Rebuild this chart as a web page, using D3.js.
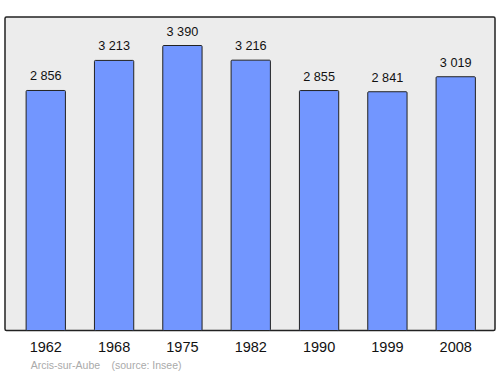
<!DOCTYPE html>
<html>
<head>
<meta charset="utf-8">
<script src="https://cdn.jsdelivr.net/npm/d3@7"></script>
<style>
  body { margin: 0; background: #fff; }
  svg { display: block; font-family: "Liberation Sans", Arial, sans-serif; }
</style>
</head>
<body>
<div id="chart-area"></div>
<script>
// Population data
let years = ["1962", "1968", "1975", "1982", "1990", "1999", "2008"];
let population = [2856, 3213, 3390, 3216, 2855, 2841, 3019];
let townName = "Arcis-sur-Aube";
let sourceText = "(source: Insee)";

let width = 500, height = 374;
let frame = {left: 5, top: 17, right: 495, bottom: 330.5};

let svg = d3.select("#chart-area").append("svg")
    .attr("width", width)
    .attr("height", height);

// Plot frame
svg.append("rect")
    .attr("x", frame.left)
    .attr("y", frame.top)
    .attr("width", frame.right - frame.left)
    .attr("height", frame.bottom - frame.top)
    .attr("rx", 1.5)
    .attr("fill", "#ececec")
    .attr("stroke", "#222")
    .attr("stroke-width", 1.5);

// Scales
let x = d3.scaleBand()
    .domain(years)
    .range([11.6, 489.9])
    .paddingInner(0.425)
    .paddingOuter(0.2125);

let y = d3.scaleLinear()
    .domain([0, 3390])
    .range([331, 45.5]);

let data = years.map((d, i) => ({year: d, value: population[i]}));

// Bars
svg.append("g")
    .selectAll("rect")
    .data(data)
    .enter()
    .append("rect")
    .attr("x", d => x(d.year))
    .attr("y", d => y(d.value))
    .attr("width", x.bandwidth())
    .attr("height", d => frame.bottom - y(d.value))
    .attr("rx", 1)
    .attr("fill", "#7296ff")
    .attr("stroke", "#222")
    .attr("stroke-width", 1);

// Value labels
svg.append("g")
    .selectAll("text")
    .data(data)
    .enter()
    .append("text")
    .attr("x", d => x(d.year) + x.bandwidth() / 2)
    .attr("y", d => y(d.value) - 10)
    .attr("text-anchor", "middle")
    .attr("font-size", 12.7)
    .attr("fill", "#111")
    .text(d => d3.format(",")(d.value).replace(",", " "));

// Year axis labels
let xAxis = d3.axisBottom(x).tickSize(0).tickPadding(0);
let axisG = svg.append("g")
    .attr("transform", "translate(0," + frame.bottom + ")")
    .call(xAxis);
axisG.select(".domain").remove();
axisG.selectAll("text")
    .attr("y", 0)
    .attr("dy", 0)
    .attr("transform", "translate(0,21.5)")
    .attr("font-size", 14.5)
    .attr("font-family", "Liberation Sans, Arial, sans-serif")
    .attr("fill", "#111");

// Source line
svg.append("text")
    .attr("x", 30.7)
    .attr("y", 369)
    .attr("font-size", 10.5)
    .attr("fill", "#aaa")
    .text(townName);
svg.append("text")
    .attr("x", 111.5)
    .attr("y", 369)
    .attr("font-size", 10.5)
    .attr("fill", "#aaa")
    .text(sourceText);
</script>
</body>
</html>
